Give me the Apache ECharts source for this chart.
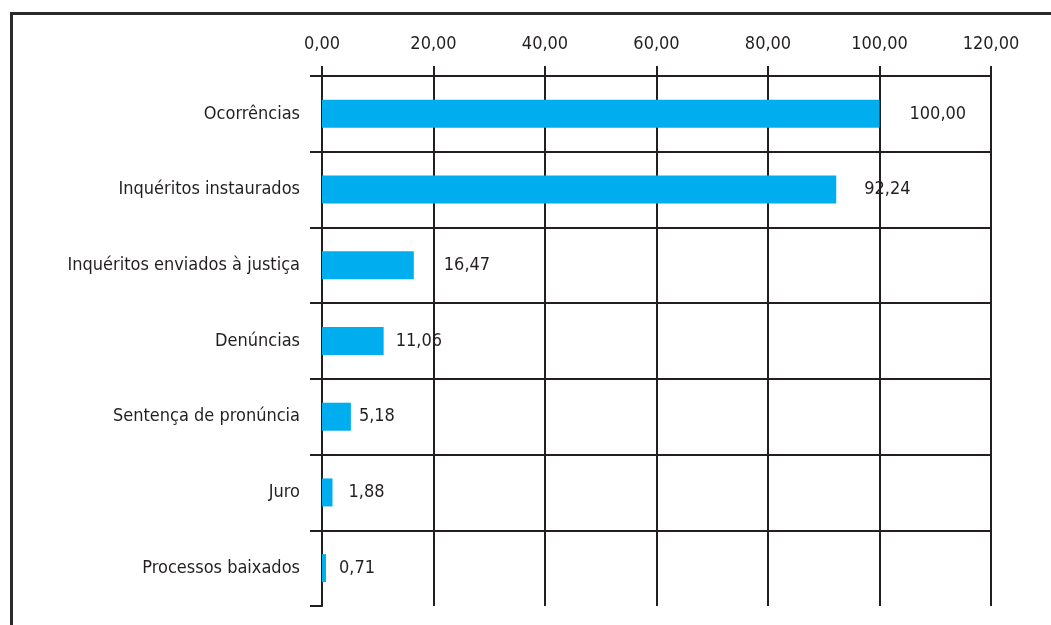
<!DOCTYPE html>
<html>
<head>
<meta charset="utf-8">
<script src="https://cdn.jsdelivr.net/npm/echarts@6/dist/echarts.min.js"></script>
<style>
html,body{margin:0;padding:0;background:#fff;}
#chart{width:1051px;height:625px;}
</style>
</head>
<body>
<div id="chart"></div>
<script>
const categories = ['Ocorrências','Inquéritos instaurados','Inquéritos enviados à justiça','Denúncias','Sentença de pronúncia','Juro','Processos baixados'];
const values = [100.00, 92.24, 16.47, 11.06, 5.18, 1.88, 0.71];
const xTicks = {min: 0, max: 120, interval: 20};

// styling (label gaps from bar end, in px)
const labelGap = [30, 28, 30, 12, 8, 16, 13];

const FONT = '"DejaVu Sans Condensed","Liberation Sans Narrow",sans-serif';
const FS = 18;
const INK = '#231f20';
const fmt = v => Number(v).toFixed(2).replace('.', ',');

const chart = echarts.init(document.getElementById('chart'), null, {renderer:'canvas'});
const splitColors = categories.map(() => INK).concat(['rgba(0,0,0,0)']);

chart.setOption({
  animation: false,
  backgroundColor: '#fff',
  grid: {left: 322, top: 76, right: 60, bottom: 19, containLabel: false},
  xAxis: {
    type: 'value', position: 'top',
    min: xTicks.min, max: xTicks.max, interval: xTicks.interval,
    axisLine: {show: true, lineStyle: {color: INK, width: 2}},
    axisTick: {show: true, inside: false, length: 10, lineStyle: {color: INK, width: 2}},
    splitLine: {show: true, lineStyle: {color: INK, width: 2}},
    axisLabel: {formatter: fmt, color: INK, fontFamily: FONT, fontSize: FS, margin: 23}
  },
  yAxis: {
    type: 'category', inverse: true, data: categories,
    axisLine: {show: true, lineStyle: {color: INK, width: 2}},
    axisTick: {show: true, inside: false, length: 12, lineStyle: {color: INK, width: 2}},
    splitLine: {show: true, lineStyle: {color: splitColors, width: 2}},
    axisLabel: {color: INK, fontFamily: FONT, fontSize: FS, margin: 22}
  },
  series: [{
    type: 'bar',
    barWidth: 28,
    itemStyle: {color: '#00aeef'},
    data: values.map((v, i) => ({
      value: v,
      label: {show: true, position: 'right', distance: labelGap[i]}
    })),
    label: {show: true, position: 'right', formatter: p => fmt(p.value), color: INK, fontFamily: FONT, fontSize: FS},
    z: 1
  }],
  graphic: [{
    type: 'rect', silent: true, z: 100,
    shape: {x: 11.5, y: 13.5, width: 1200, height: 800},
    style: {fill: 'none', stroke: '#2a2a2a', lineWidth: 3}
  }]
});
</script>
</body>
</html>
